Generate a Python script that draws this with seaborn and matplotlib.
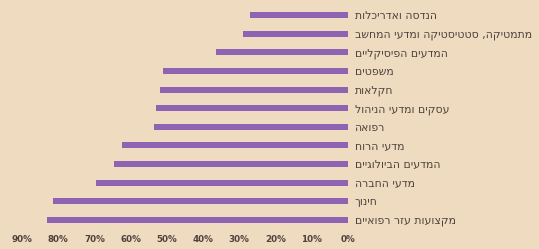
import matplotlib
matplotlib.use('Agg')
import matplotlib.pyplot as plt
import seaborn as sns
import pandas as pd

# fields of study, top to bottom as in the chart
fields = [
    'הנדסה ואדריכלות',
    'מתמטיקה, סטטיסטיקה ומדעי המחשב',
    'המדעים הפיסיקליים',
    'משפטים',
    'חקלאות',
    'עסקים ומדעי הניהול',
    'רפואה',
    'מדעי הרוח',
    'המדעים הביולוגיים',
    'מדעי החברה',
    'חינוך',
    'מקצועות עזר רפואיים',
]
# share of women (percent)
share = [27, 29, 36.5, 51, 52, 53, 53.5, 62.5, 64.5, 69.5, 81.5, 83]
ticks = [90, 80, 70, 60, 50, 40, 30, 20, 10, 0]

bg = '#EEDBC0'
bar_color = '#8E63B2'
text_color = '#4E423C'

# matplotlib has no bidi, so flip the hebrew to visual order
def visual(s):
    return s[::-1]

df = pd.DataFrame({'field': fields, 'share': share})

sns.set_style('white')
plt.rcParams['font.family'] = ['DejaVu Sans']

fig = plt.figure(figsize=(5.39, 2.49), dpi=100)
fig.patch.set_facecolor(bg)
ax = fig.add_axes([22 / 539, 0.079, (348 - 22) / 539, 0.898])
ax.set_facecolor(bg)

sns.barplot(data=df, x='share', y='field', orient='h', color=bar_color,
            width=0.32, saturation=1, linewidth=0, ax=ax)

ax.set_xlim(90, 0)
ax.set_xticks(ticks)
ax.set_xticklabels([f'{t}%' for t in ticks])
ax.set_xlabel('')
ax.set_ylabel('')

ax.yaxis.tick_right()
ax.set_yticks(range(len(fields)))
ax.set_yticklabels([visual(f) for f in fields])
ax.tick_params(axis='y', length=0, pad=5, labelsize=7.8, labelcolor=text_color)
ax.tick_params(axis='x', length=0, pad=4, labelsize=6.3, labelcolor=text_color)
for lab in ax.get_xticklabels():
    lab.set_fontweight('bold')

for sp in ax.spines.values():
    sp.set_visible(False)

fig.savefig('out.png', dpi=100, facecolor=bg)
